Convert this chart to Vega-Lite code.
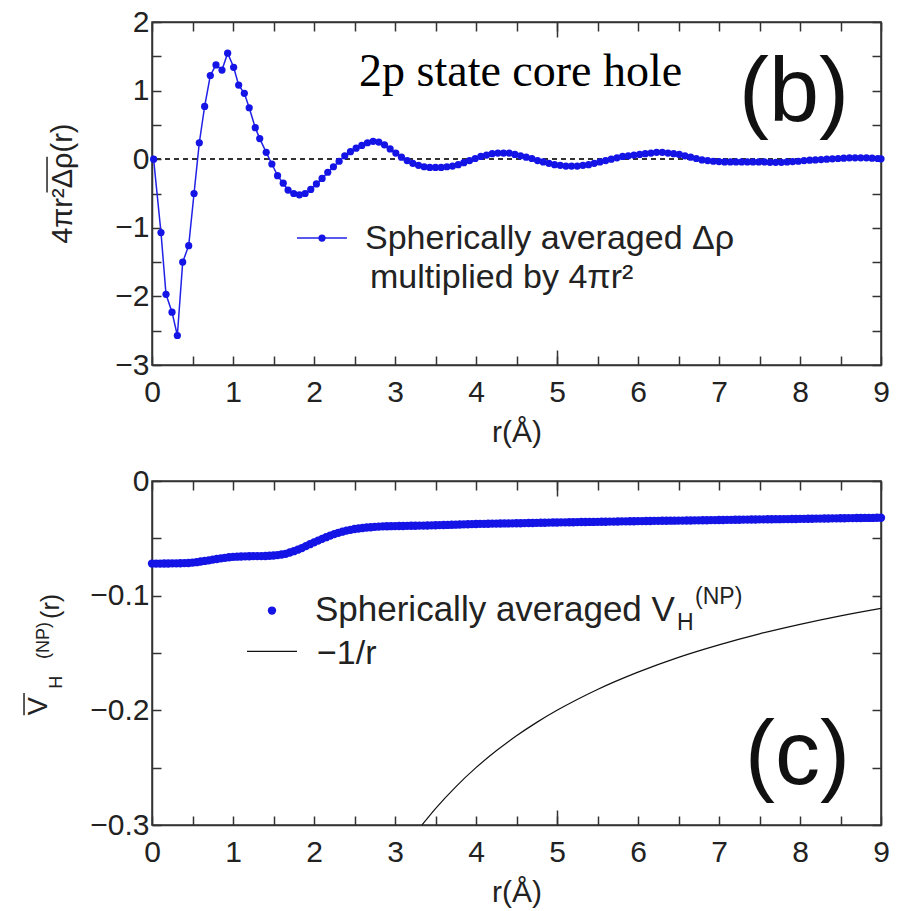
{
  "$schema": "https://vega.github.io/schema/vega-lite/v6.json",
  "background": "white",
  "padding": {"left": 22, "top": 6, "right": 5, "bottom": 5},
  "spacing": 17,
  "config": {"view": {"stroke": "#333", "strokeWidth": 1.5}, "font": "Liberation Sans"},
  "datasets": {
    "rho": [
      {"r":0.02,"v":0},{"r":0.111,"v":-1.07},{"r":0.173,"v":-1.97},{"r":0.247,"v":-2.23},{"r":0.313,"v":-2.57},{"r":0.379,"v":-1.5},{"r":0.453,"v":-1.26},{"r":0.519,"v":-0.5},{"r":0.584,"v":0.24},{"r":0.65,"v":0.77},{"r":0.72,"v":1.22},{"r":0.79,"v":1.375},{"r":0.864,"v":1.3},{"r":0.934,"v":1.545},{"r":1.008,"v":1.34},{"r":1.07,"v":1.08},{"r":1.14,"v":0.96},{"r":1.2,"v":0.75},{"r":1.275,"v":0.46},{"r":1.33,"v":0.3},{"r":1.41,"v":0.1},{"r":1.48,"v":-0.07},{"r":1.55,"v":-0.24},{"r":1.62,"v":-0.35},{"r":1.68,"v":-0.45},{"r":1.75,"v":-0.5},
      {"r":1.82,"v":-0.52},{"r":1.89,"v":-0.5},{"r":1.96,"v":-0.44},{"r":2.03,"v":-0.36},{"r":2.1,"v":-0.28},{"r":2.17,"v":-0.19},{"r":2.24,"v":-0.11},{"r":2.31,"v":-0.03},{"r":2.38,"v":0.05},{"r":2.45,"v":0.11},{"r":2.52,"v":0.16},{"r":2.59,"v":0.2},{"r":2.66,"v":0.24},{"r":2.73,"v":0.26},{"r":2.8,"v":0.25},{"r":2.87,"v":0.21},{"r":2.94,"v":0.15},{"r":3.01,"v":0.09},{"r":3.08,"v":0.03},{"r":3.15,"v":-0.02},{"r":3.22,"v":-0.06},{"r":3.29,"v":-0.09},{"r":3.36,"v":-0.11},{"r":3.43,"v":-0.12},{"r":3.5,"v":-0.12},{"r":3.57,"v":-0.12},{"r":3.64,"v":-0.11},{"r":3.71,"v":-0.1},{"r":3.78,"v":-0.08},{"r":3.85,"v":-0.05},{"r":3.92,"v":-0.02},{"r":3.99,"v":0.01},{"r":4.06,"v":0.04},{"r":4.13,"v":0.06},{"r":4.2,"v":0.08},{"r":4.27,"v":0.09},{"r":4.34,"v":0.09},{"r":4.41,"v":0.09},{"r":4.48,"v":0.07},{"r":4.55,"v":0.05},{"r":4.62,"v":0.03},{"r":4.69,"v":0.01},{"r":4.76,"v":-0.02},{"r":4.83,"v":-0.04},{"r":4.9,"v":-0.06},{"r":4.97,"v":-0.08},{"r":5.04,"v":-0.09},{"r":5.11,"v":-0.1},{"r":5.18,"v":-0.1},{"r":5.25,"v":-0.1},{"r":5.32,"v":-0.09},{"r":5.39,"v":-0.08},{"r":5.46,"v":-0.06},{"r":5.53,"v":-0.04},{"r":5.6,"v":-0.02},{"r":5.67,"v":0},{"r":5.74,"v":0.02},{"r":5.81,"v":0.04},{"r":5.88,"v":0.05},{"r":5.95,"v":0.06},{"r":6.02,"v":0.07},{"r":6.09,"v":0.08},{"r":6.16,"v":0.09},{"r":6.23,"v":0.1},{"r":6.3,"v":0.1},{"r":6.37,"v":0.09},{"r":6.44,"v":0.08},{"r":6.51,"v":0.07},{"r":6.58,"v":0.05},{"r":6.65,"v":0.03},{"r":6.72,"v":0.01},{"r":6.79,"v":-0.01},{"r":6.86,"v":-0.02},{"r":6.93,"v":-0.03},{"r":7.0,"v":-0.035},{"r":7.07,"v":-0.04},{"r":7.14,"v":-0.04},{"r":7.21,"v":-0.04},{"r":7.28,"v":-0.04},{"r":7.35,"v":-0.04},{"r":7.42,"v":-0.04},{"r":7.49,"v":-0.04},{"r":7.56,"v":-0.04},{"r":7.63,"v":-0.045},{"r":7.7,"v":-0.045},{"r":7.77,"v":-0.045},{"r":7.84,"v":-0.04},{"r":7.91,"v":-0.035},{"r":7.98,"v":-0.03},{"r":8.05,"v":-0.02},{"r":8.12,"v":-0.015},{"r":8.19,"v":-0.01},{"r":8.26,"v":-0.005},{"r":8.33,"v":0},{"r":8.4,"v":0.005},{"r":8.47,"v":0.01},{"r":8.54,"v":0.015},{"r":8.61,"v":0.02},{"r":8.68,"v":0.02},{"r":8.75,"v":0.02},{"r":8.82,"v":0.02},{"r":8.89,"v":0.015},{"r":8.96,"v":0.01},{"r":9.0,"v":0.005}
    ],
    "vh": [
      {"r":0,"v":-0.072},{"r":0.05,"v":-0.072},{"r":0.1,"v":-0.072},{"r":0.15,"v":-0.0719},{"r":0.2,"v":-0.0719},{"r":0.25,"v":-0.0718},{"r":0.3,"v":-0.0718},{"r":0.35,"v":-0.0717},{"r":0.4,"v":-0.0716},{"r":0.45,"v":-0.0715},{"r":0.5,"v":-0.0712},{"r":0.55,"v":-0.0708},{"r":0.6,"v":-0.0702},{"r":0.65,"v":-0.0697},{"r":0.7,"v":-0.0692},{"r":0.75,"v":-0.0686},{"r":0.8,"v":-0.068},{"r":0.85,"v":-0.0675},{"r":0.9,"v":-0.067},{"r":0.95,"v":-0.0665},
      {"r":1,"v":-0.0662},{"r":1.05,"v":-0.066},{"r":1.1,"v":-0.0658},{"r":1.15,"v":-0.0657},{"r":1.2,"v":-0.0656},{"r":1.25,"v":-0.0655},{"r":1.3,"v":-0.0655},{"r":1.35,"v":-0.0655},{"r":1.4,"v":-0.0654},{"r":1.45,"v":-0.0652},{"r":1.5,"v":-0.065},{"r":1.55,"v":-0.0646},{"r":1.6,"v":-0.0641},{"r":1.65,"v":-0.0635},{"r":1.7,"v":-0.0624},{"r":1.75,"v":-0.0612},{"r":1.8,"v":-0.0599},{"r":1.85,"v":-0.0585},{"r":1.9,"v":-0.0568},{"r":1.95,"v":-0.0551},
      {"r":2,"v":-0.0535},{"r":2.05,"v":-0.052},{"r":2.1,"v":-0.0505},{"r":2.15,"v":-0.049},{"r":2.2,"v":-0.0476},{"r":2.25,"v":-0.0463},{"r":2.3,"v":-0.0452},{"r":2.35,"v":-0.0442},{"r":2.4,"v":-0.0433},{"r":2.45,"v":-0.0426},{"r":2.5,"v":-0.0419},{"r":2.55,"v":-0.0414},{"r":2.6,"v":-0.041},{"r":2.65,"v":-0.0406},{"r":2.7,"v":-0.0403},{"r":2.75,"v":-0.04},{"r":2.8,"v":-0.0398},{"r":2.85,"v":-0.0396},{"r":2.9,"v":-0.0395},{"r":2.95,"v":-0.0394},
      {"r":3,"v":-0.0393},{"r":3.05,"v":-0.0392},{"r":3.1,"v":-0.0392},{"r":3.15,"v":-0.0391},{"r":3.2,"v":-0.039},{"r":3.25,"v":-0.039},{"r":3.3,"v":-0.0389},{"r":3.35,"v":-0.0389},{"r":3.4,"v":-0.0388},{"r":3.45,"v":-0.0387},{"r":3.5,"v":-0.0386},{"r":3.55,"v":-0.0385},{"r":3.6,"v":-0.0384},{"r":3.65,"v":-0.0383},{"r":3.7,"v":-0.0382},{"r":3.75,"v":-0.0381},{"r":3.8,"v":-0.0379},{"r":3.85,"v":-0.0378},{"r":3.9,"v":-0.0377},{"r":3.95,"v":-0.0376},
      {"r":4,"v":-0.0375},{"r":4.05,"v":-0.0374},{"r":4.1,"v":-0.0374},{"r":4.15,"v":-0.0373},{"r":4.2,"v":-0.0372},{"r":4.25,"v":-0.0372},{"r":4.3,"v":-0.0371},{"r":4.35,"v":-0.037},{"r":4.4,"v":-0.037},{"r":4.45,"v":-0.0369},{"r":4.5,"v":-0.0368},{"r":4.55,"v":-0.0368},{"r":4.6,"v":-0.0367},{"r":4.65,"v":-0.0366},{"r":4.7,"v":-0.0366},{"r":4.75,"v":-0.0365},{"r":4.8,"v":-0.0364},{"r":4.85,"v":-0.0364},{"r":4.9,"v":-0.0363},{"r":4.95,"v":-0.0362},
      {"r":5,"v":-0.0362},{"r":5.05,"v":-0.0361},{"r":5.1,"v":-0.0361},{"r":5.15,"v":-0.036},{"r":5.2,"v":-0.036},{"r":5.25,"v":-0.0359},{"r":5.3,"v":-0.0358},{"r":5.35,"v":-0.0358},{"r":5.4,"v":-0.0357},{"r":5.45,"v":-0.0357},{"r":5.5,"v":-0.0356},{"r":5.55,"v":-0.0355},{"r":5.6,"v":-0.0355},{"r":5.65,"v":-0.0354},{"r":5.7,"v":-0.0354},{"r":5.75,"v":-0.0353},{"r":5.8,"v":-0.0352},{"r":5.85,"v":-0.0352},{"r":5.9,"v":-0.0351},{"r":5.95,"v":-0.0351},
      {"r":6,"v":-0.035},{"r":6.05,"v":-0.035},{"r":6.1,"v":-0.0349},{"r":6.15,"v":-0.0349},{"r":6.2,"v":-0.0348},{"r":6.25,"v":-0.0348},{"r":6.3,"v":-0.0347},{"r":6.35,"v":-0.0347},{"r":6.4,"v":-0.0346},{"r":6.45,"v":-0.0346},{"r":6.5,"v":-0.0345},{"r":6.55,"v":-0.0345},{"r":6.6,"v":-0.0344},{"r":6.65,"v":-0.0344},{"r":6.7,"v":-0.0343},{"r":6.75,"v":-0.0343},{"r":6.8,"v":-0.0342},{"r":6.85,"v":-0.0342},{"r":6.9,"v":-0.0341},{"r":6.95,"v":-0.0341},
      {"r":7,"v":-0.034},{"r":7.05,"v":-0.034},{"r":7.1,"v":-0.0339},{"r":7.15,"v":-0.0339},{"r":7.2,"v":-0.0338},{"r":7.25,"v":-0.0338},{"r":7.3,"v":-0.0337},{"r":7.35,"v":-0.0337},{"r":7.4,"v":-0.0336},{"r":7.45,"v":-0.0336},{"r":7.5,"v":-0.0335},{"r":7.55,"v":-0.0335},{"r":7.6,"v":-0.0334},{"r":7.65,"v":-0.0334},{"r":7.7,"v":-0.0333},{"r":7.75,"v":-0.0333},{"r":7.8,"v":-0.0332},{"r":7.85,"v":-0.0332},{"r":7.9,"v":-0.0331},{"r":7.95,"v":-0.0331},
      {"r":8,"v":-0.033},{"r":8.05,"v":-0.033},{"r":8.1,"v":-0.0329},{"r":8.15,"v":-0.0329},{"r":8.2,"v":-0.0328},{"r":8.25,"v":-0.0328},{"r":8.3,"v":-0.0327},{"r":8.35,"v":-0.0327},{"r":8.4,"v":-0.0326},{"r":8.45,"v":-0.0326},{"r":8.5,"v":-0.0325},{"r":8.55,"v":-0.0325},{"r":8.6,"v":-0.0324},{"r":8.65,"v":-0.0324},{"r":8.7,"v":-0.0323},{"r":8.75,"v":-0.0323},{"r":8.8,"v":-0.0322},{"r":8.85,"v":-0.0322},{"r":8.9,"v":-0.0322},{"r":8.95,"v":-0.0321},{"r":9,"v":-0.0321}
    ],
    "inv": [
      {"r":3.334,"v":-0.2999},{"r":3.5,"v":-0.2857},{"r":3.75,"v":-0.2667},{"r":4,"v":-0.25},{"r":4.25,"v":-0.2353},{"r":4.5,"v":-0.2222},{"r":4.75,"v":-0.2105},{"r":5,"v":-0.2},{"r":5.5,"v":-0.1818},{"r":6,"v":-0.1667},{"r":6.5,"v":-0.1538},{"r":7,"v":-0.1429},{"r":7.5,"v":-0.1333},{"r":8,"v":-0.125},{"r":8.5,"v":-0.1176},{"r":9,"v":-0.1111}
    ]
  },
  "vconcat": [
    {
      "width": 729,
      "height": 343,
      "data": {"name": "rho"},
      "resolve": {"scale": {"x": "independent", "y": "independent"}, "axis": {"x": "independent", "y": "independent"}},
      "layer": [
        {
          "mark": {"type": "rule", "strokeDash": [5, 4], "color": "#333", "strokeWidth": 1.2},
          "encoding": {
            "y": {"datum": 0, "type": "quantitative", "scale": {"domain": [-3, 2], "nice": false, "zero": false}, "axis": null}
          }
        },
        {
          "mark": {"type": "line", "color": "#2020e6", "strokeWidth": 1.5},
          "encoding": {
            "x": {"field": "r", "type": "quantitative", "scale": {"domain": [0, 9], "nice": false, "zero": false},
              "axis": {"orient": "bottom", "values": [0,0.5,1,1.5,2,2.5,3,3.5,4,4.5,5,5.5,6,6.5,7,7.5,8,8.5,9],
                "labelExpr": "datum.value % 1 == 0 ? format(datum.value, 'd') : ''",
                "tickSize": -9, "labelPadding": 21, "labelFontSize": 30, "labelFont": "Liberation Sans", "labelColor": "#222",
                "labelFlush": false, "labelOverlap": false, "labelBound": false, "grid": false,
                "domainColor": "#333", "domainWidth": 1.5, "tickColor": "#333", "tickWidth": 1.5,
                "title": "r(Å)", "titleFont": "Liberation Sans", "titleFontSize": 30, "titleFontWeight": "normal", "titleColor": "#222", "titlePadding": 10}},
            "y": {"field": "v", "type": "quantitative", "scale": {"domain": [-3, 2], "nice": false, "zero": false},
              "axis": {"orient": "left", "values": [-3,-2.5,-2,-1.5,-1,-0.5,0,0.5,1,1.5,2],
                "labelExpr": "datum.value % 1 == 0 ? format(datum.value, 'd') : ''",
                "tickSize": -9, "labelPadding": 12, "labelFontSize": 30, "labelFont": "Liberation Sans", "labelColor": "#222",
                "labelFlush": false, "labelOverlap": false, "labelBound": false, "grid": false,
                "domainColor": "#333", "domainWidth": 1.5, "tickColor": "#333", "tickWidth": 1.5, "title": null}}
          }
        },
        {
          "mark": {"type": "point", "filled": true, "color": "#1414e6", "size": 52, "opacity": 1},
          "encoding": {
            "x": {"field": "r", "type": "quantitative", "scale": {"domain": [0, 9], "nice": false, "zero": false},
              "axis": {"orient": "top", "values": [0,0.5,1,1.5,2,2.5,3,3.5,4,4.5,5,5.5,6,6.5,7,7.5,8,8.5,9],
                "labels": false, "tickSize": -9, "grid": false, "title": null,
                "domainColor": "#333", "domainWidth": 1.5, "tickColor": "#333", "tickWidth": 1.5}},
            "y": {"field": "v", "type": "quantitative", "scale": {"domain": [-3, 2], "nice": false, "zero": false},
              "axis": {"orient": "right", "values": [-3,-2.5,-2,-1.5,-1,-0.5,0,0.5,1,1.5,2],
                "labels": false, "tickSize": -9, "grid": false, "title": null,
                "domainColor": "#333", "domainWidth": 1.5, "tickColor": "#333", "tickWidth": 1.5}}
          }
        },
        {
          "data": {"values": [{}]},
          "mark": {"type": "rule", "color": "#2020e6", "strokeWidth": 1.5},
          "encoding": {
            "x": {"datum": 1.79, "type": "quantitative", "scale": {"domain": [0, 9], "nice": false, "zero": false},
              "axis": {"orient": "bottom", "values": [5], "labels": false, "domain": false, "tickSize": -15, "grid": false, "title": null, "tickColor": "#333", "tickWidth": 1.5}},
            "x2": {"datum": 2.407},
            "y": {"datum": -1.149, "type": "quantitative", "scale": {"domain": [-3, 2], "nice": false, "zero": false}, "axis": null}
          }
        },
        {
          "data": {"values": [{}]},
          "mark": {"type": "point", "filled": true, "color": "#1414e6", "size": 52, "opacity": 1},
          "encoding": {
            "x": {"datum": 2.099, "type": "quantitative", "scale": {"domain": [0, 9], "nice": false, "zero": false},
              "axis": {"orient": "top", "values": [5], "labels": false, "domain": false, "tickSize": -15, "grid": false, "title": null, "tickColor": "#333", "tickWidth": 1.5}},
            "y": {"datum": -1.149, "type": "quantitative", "scale": {"domain": [-3, 2], "nice": false, "zero": false}, "axis": null}
          }
        },
        {
          "data": {"values": [{}]},
          "mark": {"type": "text", "text": "Spherically averaged Δρ", "font": "Liberation Sans", "fontSize": 34, "align": "left", "baseline": "alphabetic", "color": "#222"},
          "encoding": {
            "x": {"datum": 2.63, "type": "quantitative", "scale": {"domain": [0, 9], "nice": false, "zero": false}, "axis": null},
            "y": {"datum": -1.306, "type": "quantitative", "scale": {"domain": [-3, 2], "nice": false, "zero": false}, "axis": null}
          }
        },
        {
          "data": {"values": [{}]},
          "mark": {"type": "text", "text": "multiplied by 4πr²", "font": "Liberation Sans", "fontSize": 34, "align": "left", "baseline": "alphabetic", "color": "#222"},
          "encoding": {
            "x": {"datum": 2.691, "type": "quantitative", "scale": {"domain": [0, 9], "nice": false, "zero": false}, "axis": null},
            "y": {"datum": -1.875, "type": "quantitative", "scale": {"domain": [-3, 2], "nice": false, "zero": false}, "axis": null}
          }
        },
        {
          "data": {"values": [{}]},
          "mark": {"type": "text", "text": "2p state core hole", "font": "Liberation Serif", "fontSize": 46, "align": "left", "baseline": "alphabetic", "color": "#000"},
          "encoding": {
            "x": {"datum": 2.556, "type": "quantitative", "scale": {"domain": [0, 9], "nice": false, "zero": false}, "axis": null},
            "y": {"datum": 1.072, "type": "quantitative", "scale": {"domain": [-3, 2], "nice": false, "zero": false}, "axis": null}
          }
        },
        {
          "data": {"values": [{}]},
          "mark": {"type": "text", "text": "(b)", "font": "Liberation Sans", "fontSize": 90, "align": "left", "baseline": "alphabetic", "color": "#111"},
          "encoding": {
            "x": {"datum": 7.247, "type": "quantitative", "scale": {"domain": [0, 9], "nice": false, "zero": false}, "axis": null},
            "y": {"datum": 0.562, "type": "quantitative", "scale": {"domain": [-3, 2], "nice": false, "zero": false}, "axis": null}
          }
        },
        {
          "data": {"values": [{}]},
          "mark": {"type": "text", "text": "4πr²Δρ(r)", "font": "Liberation Sans", "fontSize": 29, "angle": 270, "align": "left", "baseline": "alphabetic", "color": "#222"},
          "encoding": {
            "x": {"datum": -0.988, "type": "quantitative", "scale": {"domain": [0, 9], "nice": false, "zero": false}, "axis": null},
            "y": {"datum": -1.233, "type": "quantitative", "scale": {"domain": [-3, 2], "nice": false, "zero": false}, "axis": null}
          }
        },
        {
          "data": {"values": [{}]},
          "mark": {"type": "rule", "color": "#222", "strokeWidth": 1.5},
          "encoding": {
            "x": {"datum": -1.296, "type": "quantitative", "scale": {"domain": [0, 9], "nice": false, "zero": false}, "axis": null},
            "y": {"datum": -0.484, "type": "quantitative", "scale": {"domain": [-3, 2], "nice": false, "zero": false}, "axis": null},
            "y2": {"datum": 0.036}
          }
        }
      ]
    },
    {
      "width": 729,
      "height": 344,
      "data": {"name": "vh"},
      "resolve": {"scale": {"x": "independent", "y": "independent"}, "axis": {"x": "independent", "y": "independent"}},
      "layer": [
        {
          "mark": {"type": "point", "filled": true, "color": "#1414e6", "size": 70, "opacity": 1},
          "encoding": {
            "x": {"field": "r", "type": "quantitative", "scale": {"domain": [0, 9], "nice": false, "zero": false},
              "axis": {"orient": "bottom", "values": [0,0.5,1,1.5,2,2.5,3,3.5,4,4.5,5,5.5,6,6.5,7,7.5,8,8.5,9],
                "labelExpr": "datum.value % 1 == 0 ? format(datum.value, 'd') : ''",
                "tickSize": -9, "labelPadding": 21, "labelFontSize": 30, "labelFont": "Liberation Sans", "labelColor": "#222",
                "labelFlush": false, "labelOverlap": false, "labelBound": false, "grid": false,
                "domainColor": "#333", "domainWidth": 1.5, "tickColor": "#333", "tickWidth": 1.5,
                "title": "r(Å)", "titleFont": "Liberation Sans", "titleFontSize": 30, "titleFontWeight": "normal", "titleColor": "#222", "titlePadding": 10}},
            "y": {"field": "v", "type": "quantitative", "scale": {"domain": [-0.3, 0], "nice": false, "zero": false},
              "axis": {"orient": "left", "values": [-0.3,-0.25,-0.2,-0.15,-0.1,-0.05,0],
                "labelExpr": "abs(datum.value*10 - round(datum.value*10)) < 0.001 ? (datum.value == 0 ? '0' : format(datum.value, '.1f')) : ''",
                "tickSize": -9, "labelPadding": 12, "labelFontSize": 30, "labelFont": "Liberation Sans", "labelColor": "#222",
                "labelFlush": false, "labelOverlap": false, "labelBound": false, "grid": false,
                "domainColor": "#333", "domainWidth": 1.5, "tickColor": "#333", "tickWidth": 1.5, "title": null}}
          }
        },
        {
          "data": {"name": "inv"},
          "mark": {"type": "line", "color": "#111", "strokeWidth": 1.2, "interpolate": "monotone"},
          "encoding": {
            "x": {"field": "r", "type": "quantitative", "scale": {"domain": [0, 9], "nice": false, "zero": false},
              "axis": {"orient": "top", "values": [0,0.5,1,1.5,2,2.5,3,3.5,4,4.5,5,5.5,6,6.5,7,7.5,8,8.5,9],
                "labels": false, "tickSize": -9, "grid": false, "title": null,
                "domainColor": "#333", "domainWidth": 1.5, "tickColor": "#333", "tickWidth": 1.5}},
            "y": {"field": "v", "type": "quantitative", "scale": {"domain": [-0.3, 0], "nice": false, "zero": false},
              "axis": {"orient": "right", "values": [-0.3,-0.25,-0.2,-0.15,-0.1,-0.05,0],
                "labels": false, "tickSize": -9, "grid": false, "title": null,
                "domainColor": "#333", "domainWidth": 1.5, "tickColor": "#333", "tickWidth": 1.5}}
          }
        },
        {
          "data": {"values": [{}]},
          "mark": {"type": "point", "filled": true, "color": "#1414e6", "size": 70, "opacity": 1},
          "encoding": {
            "x": {"datum": 1.481, "type": "quantitative", "scale": {"domain": [0, 9], "nice": false, "zero": false},
              "axis": {"orient": "bottom", "values": [5], "labels": false, "domain": false, "tickSize": -15, "grid": false, "title": null, "tickColor": "#333", "tickWidth": 1.5}},
            "y": {"datum": -0.113, "type": "quantitative", "scale": {"domain": [-0.3, 0], "nice": false, "zero": false}, "axis": null}
          }
        },
        {
          "data": {"values": [{}]},
          "mark": {"type": "rule", "color": "#111", "strokeWidth": 1.2},
          "encoding": {
            "x": {"datum": 1.173, "type": "quantitative", "scale": {"domain": [0, 9], "nice": false, "zero": false},
              "axis": {"orient": "top", "values": [5], "labels": false, "domain": false, "tickSize": -15, "grid": false, "title": null, "tickColor": "#333", "tickWidth": 1.5}},
            "x2": {"datum": 1.79},
            "y": {"datum": -0.1485, "type": "quantitative", "scale": {"domain": [-0.3, 0], "nice": false, "zero": false}, "axis": null}
          }
        },
        {
          "data": {"values": [{}]},
          "mark": {"type": "text", "text": "Spherically averaged V", "font": "Liberation Sans", "fontSize": 35, "align": "left", "baseline": "alphabetic", "color": "#222"},
          "encoding": {
            "x": {"datum": 2.012, "type": "quantitative", "scale": {"domain": [0, 9], "nice": false, "zero": false}, "axis": null},
            "y": {"datum": -0.1223, "type": "quantitative", "scale": {"domain": [-0.3, 0], "nice": false, "zero": false}, "axis": null}
          }
        },
        {
          "data": {"values": [{}]},
          "mark": {"type": "text", "text": "H", "font": "Liberation Sans", "fontSize": 23, "align": "left", "baseline": "alphabetic", "color": "#222"},
          "encoding": {
            "x": {"datum": 6.481, "type": "quantitative", "scale": {"domain": [0, 9], "nice": false, "zero": false}, "axis": null},
            "y": {"datum": -0.1299, "type": "quantitative", "scale": {"domain": [-0.3, 0], "nice": false, "zero": false}, "axis": null}
          }
        },
        {
          "data": {"values": [{}]},
          "mark": {"type": "text", "text": "(NP)", "font": "Liberation Sans", "fontSize": 23, "align": "left", "baseline": "alphabetic", "color": "#222"},
          "encoding": {
            "x": {"datum": 6.704, "type": "quantitative", "scale": {"domain": [0, 9], "nice": false, "zero": false}, "axis": null},
            "y": {"datum": -0.1071, "type": "quantitative", "scale": {"domain": [-0.3, 0], "nice": false, "zero": false}, "axis": null}
          }
        },
        {
          "data": {"values": [{}]},
          "mark": {"type": "text", "text": "−1/r", "font": "Liberation Sans", "fontSize": 34, "align": "left", "baseline": "alphabetic", "color": "#222"},
          "encoding": {
            "x": {"datum": 2.037, "type": "quantitative", "scale": {"domain": [0, 9], "nice": false, "zero": false}, "axis": null},
            "y": {"datum": -0.16, "type": "quantitative", "scale": {"domain": [-0.3, 0], "nice": false, "zero": false}, "axis": null}
          }
        },
        {
          "data": {"values": [{}]},
          "mark": {"type": "text", "text": "(c)", "font": "Liberation Sans", "fontSize": 90, "align": "left", "baseline": "alphabetic", "color": "#111"},
          "encoding": {
            "x": {"datum": 7.32, "type": "quantitative", "scale": {"domain": [0, 9], "nice": false, "zero": false}, "axis": null},
            "y": {"datum": -0.2643, "type": "quantitative", "scale": {"domain": [-0.3, 0], "nice": false, "zero": false}, "axis": null}
          }
        },
        {
          "data": {"values": [{}]},
          "mark": {"type": "text", "text": "V", "font": "Liberation Sans", "fontSize": 27, "angle": 270, "align": "left", "baseline": "alphabetic", "color": "#222"},
          "encoding": {
            "x": {"datum": -1.296, "type": "quantitative", "scale": {"domain": [0, 9], "nice": false, "zero": false}, "axis": null},
            "y": {"datum": -0.2042, "type": "quantitative", "scale": {"domain": [-0.3, 0], "nice": false, "zero": false}, "axis": null}
          }
        },
        {
          "data": {"values": [{}]},
          "mark": {"type": "text", "text": "H", "font": "Liberation Sans", "fontSize": 18, "angle": 270, "align": "left", "baseline": "alphabetic", "color": "#222"},
          "encoding": {
            "x": {"datum": -1.111, "type": "quantitative", "scale": {"domain": [0, 9], "nice": false, "zero": false}, "axis": null},
            "y": {"datum": -0.1812, "type": "quantitative", "scale": {"domain": [-0.3, 0], "nice": false, "zero": false}, "axis": null}
          }
        },
        {
          "data": {"values": [{}]},
          "mark": {"type": "text", "text": "(NP)", "font": "Liberation Sans", "fontSize": 18, "angle": 270, "align": "left", "baseline": "alphabetic", "color": "#222"},
          "encoding": {
            "x": {"datum": -1.272, "type": "quantitative", "scale": {"domain": [0, 9], "nice": false, "zero": false}, "axis": null},
            "y": {"datum": -0.1552, "type": "quantitative", "scale": {"domain": [-0.3, 0], "nice": false, "zero": false}, "axis": null}
          }
        },
        {
          "data": {"values": [{}]},
          "mark": {"type": "text", "text": "(r)", "font": "Liberation Sans", "fontSize": 25, "angle": 270, "align": "left", "baseline": "alphabetic", "color": "#222"},
          "encoding": {
            "x": {"datum": -1.154, "type": "quantitative", "scale": {"domain": [0, 9], "nice": false, "zero": false}, "axis": null},
            "y": {"datum": -0.1203, "type": "quantitative", "scale": {"domain": [-0.3, 0], "nice": false, "zero": false}, "axis": null}
          }
        },
        {
          "data": {"values": [{}]},
          "mark": {"type": "rule", "color": "#222", "strokeWidth": 1.5},
          "encoding": {
            "x": {"datum": -1.58, "type": "quantitative", "scale": {"domain": [0, 9], "nice": false, "zero": false}, "axis": null},
            "y": {"datum": -0.2042, "type": "quantitative", "scale": {"domain": [-0.3, 0], "nice": false, "zero": false}, "axis": null},
            "y2": {"datum": -0.1848}
          }
        }
      ]
    }
  ]
}
